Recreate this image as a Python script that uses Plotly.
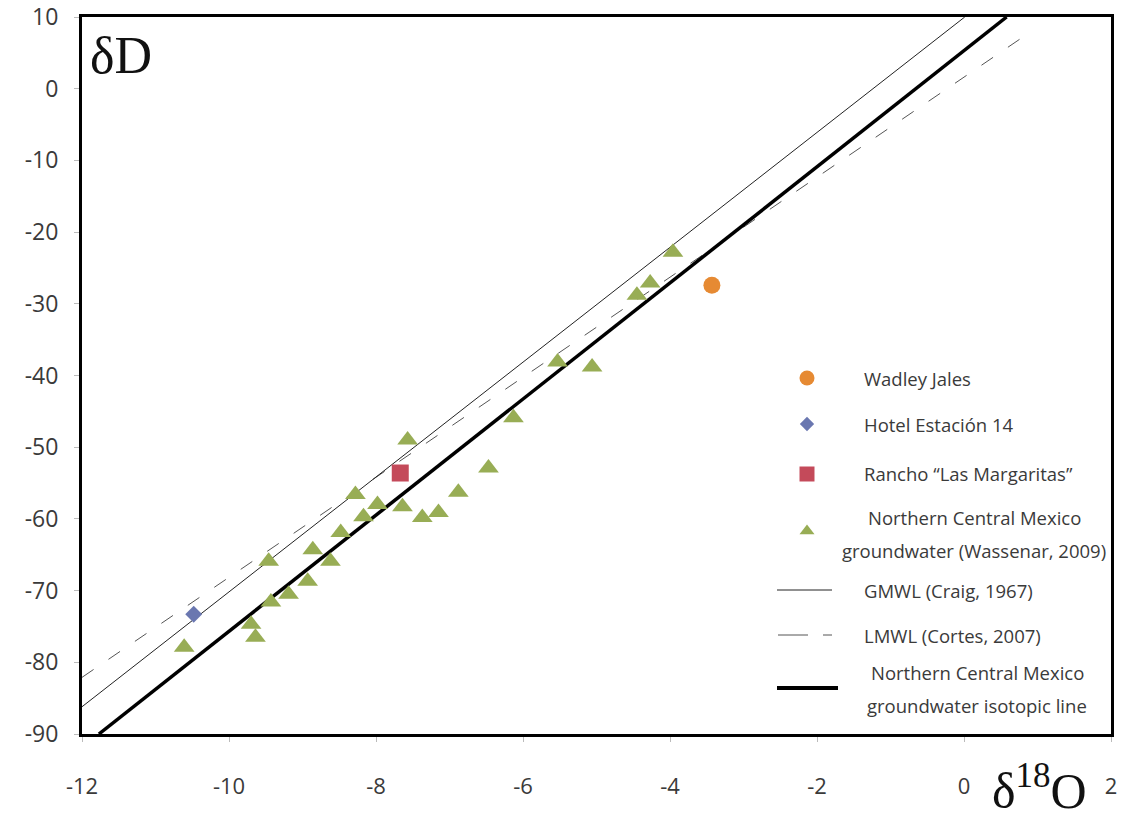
import plotly.graph_objects as go

# ---------------- data ----------------
wadley_x = [-3.43]
wadley_y = [-27.4]
hotel_x = [-10.48]
hotel_y = [-73.3]
rancho_x = [-7.67]
rancho_y = [-53.6]

ncm_x = [-3.96, -4.27, -4.45, -5.53, -5.06, -6.13, -6.47, -7.57, -6.88, -7.15,
         -7.37, -7.64, -8.28, -7.98, -8.17, -8.48, -8.86, -8.62, -9.46, -8.93,
         -9.19, -9.43, -9.70, -9.64, -10.61]
ncm_y = [-22.8, -27.1, -28.8, -38.1, -38.8, -45.9, -52.9, -49.0, -56.3, -59.1,
         -59.8, -58.3, -56.6, -58.0, -59.7, -61.9, -64.3, -65.9, -65.9, -68.7,
         -70.5, -71.6, -74.7, -76.5, -77.9]

gmwl_x = [-12.0, 0.01]
gmwl_y = [-86.2, 10.0]
lmwl_x = [-12.0, 0.93]
lmwl_y = [-82.1, 8.1]
ncmline_x = [-11.77, 0.58]
ncmline_y = [-90.0, 10.0]

x_ticks = [-12, -10, -8, -6, -4, -2, 0, 2]
y_ticks = [-90, -80, -70, -60, -50, -40, -30, -20, -10, 0, 10]

legend_lines = [
    ["Wadley Jales"],
    ["Hotel Estación 14"],
    ["Rancho “Las Margaritas”"],
    ["Northern Central Mexico", "groundwater (Wassenar, 2009)"],
    ["GMWL (Craig, 1967)"],
    ["LMWL (Cortes, 2007)"],
    ["Northern Central Mexico", "groundwater isotopic line"],
]

# ---------------- styles ----------------
C_ORANGE = "#e68a33"
C_BLUE = "#6a77b0"
C_RED = "#c44a5a"
C_GREEN = "#98ad55"
TXT = "#3a3a3a"

W, H = 1133, 819
L, R, T, B = 82, 1111, 17, 734


def px(xp):
    return (xp - L) / (R - L)


def py(yp):
    return (B - yp) / (B - T)


fig = go.Figure()

fig.add_trace(go.Scatter(x=lmwl_x, y=lmwl_y, mode="lines",
                         line=dict(color="#555555", width=1, dash="14px,18px"),
                         showlegend=False))
fig.add_trace(go.Scatter(x=gmwl_x, y=gmwl_y, mode="lines",
                         line=dict(color="#222222", width=1),
                         showlegend=False))
fig.add_trace(go.Scatter(x=ncmline_x, y=ncmline_y, mode="lines",
                         line=dict(color="#000000", width=3.5),
                         showlegend=False))

fig.add_trace(go.Scatter(x=ncm_x, y=ncm_y, mode="markers",
                         marker=dict(symbol="triangle-up", size=18, color=C_GREEN),
                         showlegend=False))
fig.add_trace(go.Scatter(x=wadley_x, y=wadley_y, mode="markers",
                         marker=dict(symbol="circle", size=17, color=C_ORANGE),
                         showlegend=False))
fig.add_trace(go.Scatter(x=hotel_x, y=hotel_y, mode="markers",
                         marker=dict(symbol="diamond", size=13, color=C_BLUE),
                         showlegend=False))
fig.add_trace(go.Scatter(x=rancho_x, y=rancho_y, mode="markers",
                         marker=dict(symbol="square", size=17, color=C_RED),
                         showlegend=False))

# ---------------- manual legend ----------------
leg_marker_px = [(807, 378), (807, 424), (807, 474), (807, 531)]
leg_symbols = ["circle", "diamond", "square", "triangle-up"]
leg_colors = [C_ORANGE, C_BLUE, C_RED, C_GREEN]
leg_sizes = [15, 11, 15, 13]
for (mx, my), s, c, sz in zip(leg_marker_px, leg_symbols, leg_colors, leg_sizes):
    fig.add_trace(go.Scatter(x=[px(mx)], y=[py(my)], mode="markers",
                             xaxis="x2", yaxis="y2",
                             marker=dict(symbol=s, size=sz, color=c),
                             showlegend=False, hoverinfo="skip"))

shapes = []
shapes.append(dict(type="line", xref="paper", yref="paper",
                   x0=px(777), x1=px(832), y0=py(590), y1=py(590),
                   line=dict(color="#222222", width=1)))
shapes.append(dict(type="line", xref="paper", yref="paper",
                   x0=px(778), x1=px(808), y0=py(635), y1=py(635),
                   line=dict(color="#555555", width=1)))
shapes.append(dict(type="line", xref="paper", yref="paper",
                   x0=px(823), x1=px(832), y0=py(635), y1=py(635),
                   line=dict(color="#555555", width=1)))
shapes.append(dict(type="line", xref="paper", yref="paper",
                   x0=px(777), x1=px(838), y0=py(688), y1=py(688),
                   line=dict(color="#000000", width=4)))

annotations = []
# (x, y of first line, anchor)
leg_text_pos = [
    (862, 378, "left"),
    (862, 424, "left"),
    (862, 474, "left"),
    (974, 517, "center"),
    (862, 590, "left"),
    (862, 635, "left"),
    (977, 672, "center"),
]
LINE_GAP = 33
for (tx, ty, anc), lines in zip(leg_text_pos, legend_lines):
    for i, lab in enumerate(lines):
        annotations.append(dict(x=px(tx), y=py(ty + i * LINE_GAP), xref="paper", yref="paper",
                                text=lab, showarrow=False, xanchor=anc, yanchor="middle",
                                font=dict(family="Open Sans", size=18.5, color=TXT)))

annotations.append(dict(x=px(88), y=py(56), xref="paper", yref="paper",
                        text="δD", showarrow=False, xanchor="left", yanchor="middle",
                        font=dict(family="Liberation Serif", size=52, color="#111111")))
annotations.append(dict(x=px(990), y=py(787), xref="paper", yref="paper",
                        text="δ<sup>18</sup>O", showarrow=False, xanchor="left",
                        yanchor="middle",
                        font=dict(family="Liberation Serif", size=50, color="#111111")))

fig.update_layout(
    width=W, height=H,
    margin=dict(l=L, r=W - R, t=T, b=H - B, pad=0),
    paper_bgcolor="white", plot_bgcolor="white",
    showlegend=False,
    shapes=shapes,
    annotations=annotations,
    xaxis=dict(range=[-12, 2], tickvals=x_ticks, ticktext=[str(v) for v in x_ticks],
               showgrid=False, zeroline=False, automargin=False,
               ticklabeloverflow="allow",
               showline=True, linecolor="black", linewidth=3, mirror=True,
               ticks="outside", ticklen=5, tickcolor="#bbbbbb", tickwidth=1,
               ticklabelstandoff=26,
               tickfont=dict(family="Open Sans", size=22, color=TXT)),
    yaxis=dict(range=[-90, 10], tickvals=y_ticks, ticktext=[str(v) for v in y_ticks],
               showgrid=False, zeroline=False, automargin=False,
               ticklabeloverflow="allow",
               showline=True, linecolor="black", linewidth=3, mirror=True,
               ticks="outside", ticklen=5, tickcolor="#bbbbbb", tickwidth=1,
               ticklabelstandoff=11,
               tickfont=dict(family="Open Sans", size=23, color=TXT)),
    xaxis2=dict(range=[0, 1], overlaying="x", visible=False, fixedrange=True),
    yaxis2=dict(range=[0, 1], overlaying="y", visible=False, fixedrange=True),
)

fig.write_html("out.html", config={"displayModeBar": False},
               post_script="document.body.style.margin='0';")
